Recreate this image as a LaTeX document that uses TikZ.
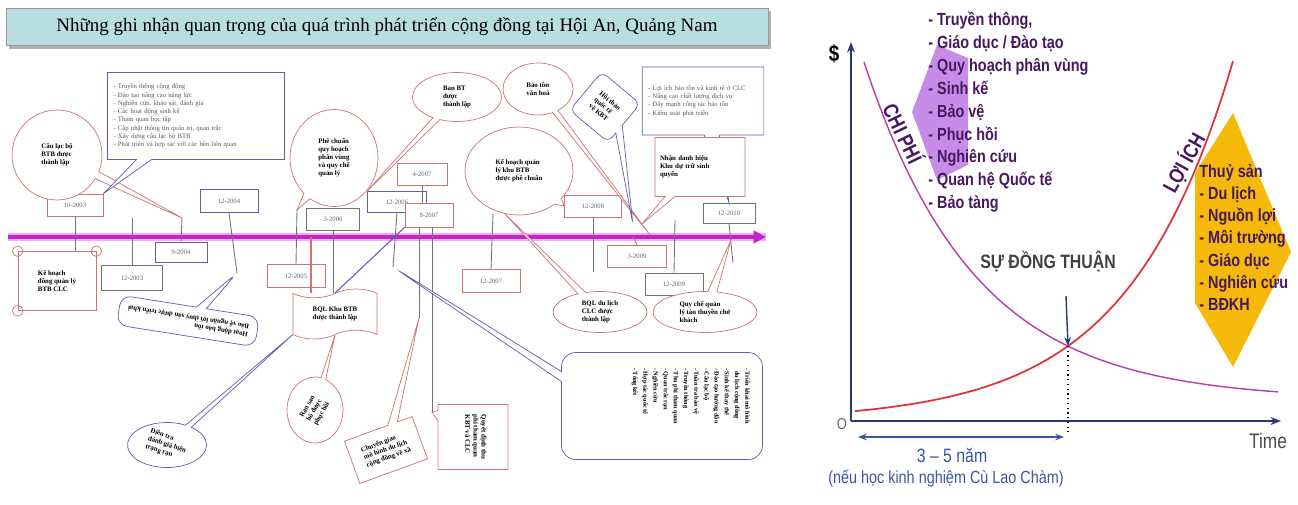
\documentclass[tikz,border=0pt]{standalone}
\usepackage{fontspec}
\setmainfont{Liberation Serif}
\newfontfamily\chartfont[FakeStretch=0.82]{Liberation Sans}
\usetikzlibrary{arrows.meta,shapes.callouts,shapes.symbols}

\definecolor{boxred}{RGB}{205,115,115}
\definecolor{boxblue}{RGB}{95,95,175}
\definecolor{boxgray}{RGB}{115,115,115}
\definecolor{timecol}{RGB}{195,35,200}
\definecolor{glowcol}{RGB}{242,170,242}
\definecolor{titlefill}{RGB}{185,222,226}
\definecolor{axiscol}{RGB}{40,55,120}
\definecolor{costcol}{RGB}{185,60,170}
\definecolor{benefitcol}{RGB}{225,50,60}
\definecolor{costfill}{RGB}{200,140,232}
\definecolor{benefitfill}{RGB}{245,185,10}
\definecolor{listcol}{RGB}{70,25,95}
\definecolor{spancol}{RGB}{60,85,160}

\begin{document}
\begin{tikzpicture}
  [x=0.02cm,y=-0.02cm,
   datebox/.style={draw,rectangle,fill=white,inner sep=1pt,minimum width=1.12cm,minimum height=0.44cm,
     font=\fontsize{3.8}{4.2}\selectfont,text=black!60},
   note/.style={font={\fontsize{3.9}{4.6}\selectfont\bfseries},align=left,inner sep=1pt},
   bubble/.style={ellipse callout,draw=boxred,fill=white,note,callout pointer arc=10},
   redcall/.style={rectangle callout,draw=boxred,fill=white,note,callout pointer width=0.2cm},
   bluecall/.style={rectangle callout,draw=boxblue,fill=white,note,callout pointer width=0.2cm},
   listbox/.style={rectangle callout,draw=boxblue,fill=white,align=left,text=black!65,
     font=\fontsize{3.8}{4.7}\selectfont,callout pointer width=0.3cm},
   tick/.style={draw=boxgray,line width=0.5pt},
   redtick/.style={draw=boxred,line width=0.6pt},
   bluetick/.style={draw=boxblue,line width=0.6pt},
   chart/.style={font={\chartfont\bfseries\fontsize{10}{13}\selectfont},text=listcol,align=left,inner sep=0pt}]
\useasboundingbox (0,0) rectangle (1298,504);

% title
\fill[black!30] (9,11) rectangle (771,49);
\node[draw=black!40,fill=titlefill,minimum width=15.24cm,minimum height=0.74cm,
  font=\fontsize{10.8}{12}\selectfont] (title) at (387,27)
  {Những ghi nhận quan trọng của quá trình phát triển cộng đồng tại Hội An, Quảng Nam};

% free ends
\coordinate (tl0) at (8,237);
\coordinate (tl1) at (766,237);
\coordinate (k2) at (132,218);
\coordinate (k3) at (182,218);
\coordinate (k4) at (237,273);
\coordinate (k5) at (297,210);
\coordinate (k6) at (311,237);
\coordinate (k7) at (393,267);
\coordinate (k8) at (419,318);
\coordinate (k9) at (432,412);
\coordinate (k10) at (493,213);
\coordinate (k11) at (593,272);
\coordinate (k12) at (650,235);
\coordinate (k13) at (633,225);
\coordinate (k14) at (642,224);
\coordinate (k15) at (505,214);
\coordinate (k16) at (731,240);
\coordinate (k17) at (675,220);
\coordinate (k18) at (733,263);
\coordinate (k19) at (633,237);

% timeline
\draw[glowcol,line width=5pt] (tl0) -- (tl1);
\draw[timecol,line width=2pt,-{Triangle[length=7pt,width=7pt]}] (tl0) -- (tl1);

% dates
\node[datebox,draw=boxred] (d1) at (75,205) {10-2003};
\node[datebox,draw=boxgray,minimum width=1.22cm,minimum height=0.5cm] (d2) at (132,278) {12-2003};
\node[datebox,draw=boxblue,minimum width=1.04cm,minimum height=0.4cm] (d3) at (181,252) {9-2004};
\node[datebox,draw=boxblue,minimum width=1.16cm,minimum height=0.46cm] (d4) at (229,201) {12-2004};
\node[datebox,draw=boxred,minimum width=1.16cm,minimum height=0.46cm] (d5) at (296,276) {12-2005};
\node[datebox,draw=boxgray,minimum width=1.06cm] (d6) at (333,219) {3-2006};
\node[datebox,draw=boxblue,minimum width=1.18cm,minimum height=0.42cm] (d7) at (397,202) {12-2006};
\node[datebox,draw=boxred,minimum width=1cm] (d8) at (422,174) {4-2007};
\node[datebox,draw=boxred,minimum width=0.96cm,minimum height=0.48cm] (d9) at (429,215) {8-2007};
\node[datebox,draw=boxred,minimum width=1.16cm,minimum height=0.46cm] (d10) at (491,281) {12-2007};
\node[datebox,draw=boxred,minimum width=1.14cm] (d11) at (593,206) {12-2008};
\node[datebox,draw=boxred,minimum width=1.18cm] (d12) at (637,256) {3-2009};
\node[datebox,draw=boxgray,minimum width=1.16cm] (d13) at (674,284) {12-2009};
\node[datebox,draw=boxgray,minimum width=1.04cm,minimum height=0.4cm] (d14) at (729,213) {12-2010};

% scroll and banner
\node[draw=boxred,fill=white,note,minimum width=1.56cm,minimum height=1.18cm,anchor=center] (s1) at (57,281)
  {Kế hoạch\\đồng quản lý\\BTB CLC};
\draw[boxred] (s1.north west) circle (3pt) (s1.north east) circle (3pt) (s1.south west) circle (3pt);
\node[tape,draw=boxred,fill=white,note,minimum width=1.68cm,minimum height=1cm] (b1) at (335,314)
  {BQL Khu BTB\\được thành lập};

% ticks
\draw[tick] (d1.south) -- (d1.south |- s1.north);
\draw[tick] (k2) -- (d2.north);
\draw[tick] (d3.north) -- (k3);
\draw[tick] (d4.south) -- (k4);
\draw[tick] (k5) -- (d5.north);
\draw[redtick] (k6) -- (k6 |- b1.north);
\draw[tick] (d6.south) -- (d6.south |- b1.north);
\draw[tick] (d7.south) -- (k7);
\draw[tick] (d8.south) -- (d8.south |- d9.north);
\draw[tick] (d9.south -| k8) -- (k8);
\draw[tick] (d9.south -| k9) -- (k9);
\draw[tick] (k10) -- (d10.north);
\draw[tick] (d11.south) -- (k11);
\draw[redtick] (k19) -- (d12.north);
\draw[tick] (k17) -- (d13.north);
\draw[tick] (d14.south) -- (k18);
\draw[bluetick] (b1.north) -- (d9.south west);

% notes
\node[bubble,minimum width=1.8cm,minimum height=1.8cm,callout absolute pointer={(k3)}] (c1) at (57,155)
  {Câu lạc bộ\\BTB được\\thành lập};
\node[listbox,minimum width=3.54cm,minimum height=1.74cm,text width=3.3cm,callout absolute pointer={(d1.north east)}] (c2) at (196,116)
  {- Truyền thông cộng đồng\\- Đào tạo nâng cao năng lực\\- Nghiên cứu, khảo sát, đánh giá\\- Các hoạt động sinh kế\\- Tham quan học tập\\- Cập nhật thông tin quản trị, quan trắc\\- Xây dựng câu lạc bộ BTB\\- Phát triển và hợp tác với các bên liên quan};
\node[bubble,minimum width=1.76cm,minimum height=1.94cm,callout absolute pointer={(k5)}] (c3) at (334,158)
  {Phê chuẩn\\quy hoạch\\phân vùng\\và quy chế\\quản lý};
\node[bubble,minimum width=1.78cm,minimum height=0.98cm,callout absolute pointer={(d7.north west)}] (c4) at (457,97)
  {Ban BT\\được\\thành lập};
\node[bubble,minimum width=1.4cm,minimum height=1.04cm,callout absolute pointer={(k12)}] (c5) at (538,89)
  {Bảo tồn\\văn hoá};
\node[bubble,minimum width=2.16cm,minimum height=1.76cm,callout absolute pointer={(d11.west)}] (c6) at (519,171)
  {Kế hoạch quản\\lý khu BTB\\được phê chuẩn};
\node[bluecall,rounded corners=4pt,minimum width=1cm,minimum height=1cm,rotate=-40,callout absolute pointer={(k13)}] (c7) at (605,107)
  {Hội thảo\\quốc tế\\về KBT};
\node[listbox,minimum width=2.4cm,minimum height=1.36cm,text width=2.2cm,callout absolute pointer={(d14.north)}] (c8) at (703,101)
  {- Lợi ích bảo tồn và kinh tế ở CLC\\- Nâng cao chất lượng dịch vụ\\- Đẩy mạnh công tác bảo tồn\\- Kiểm soát phát triển};
\node[redcall,minimum width=1.8cm,minimum height=1.18cm,text width=1.6cm,callout absolute pointer={(k14)}] (c9) at (700,167)
  {Nhận danh hiệu\\Khu dự trữ sinh\\quyển};
\node[bubble,minimum width=1.88cm,minimum height=0.82cm,callout absolute pointer={(k15)}] (c10) at (600,312)
  {BQL du lịch\\CLC được\\thành lập};
\node[bubble,minimum width=2.08cm,minimum height=0.82cm,callout absolute pointer={(k16)}] (c11) at (705,312)
  {Quy chế quản\\lý tàu thuyền chở\\khách};
\node[bluecall,rounded corners=8pt,minimum width=4.02cm,minimum height=2.14cm,callout absolute pointer={(k7)}] (c12) at (662,406) {};
\node[note,font={\fontsize{3.6}{5.8}\selectfont\bfseries},rotate=-90,anchor=north west] (c12t) at (752,366)
  {- Triển khai mô hình\\ \ \ du lịch cộng đồng\\- Sinh kế thay thế\\- Đào tạo hướng dẫn\\- Câu lạc bộ\\- Tuần tra bảo vệ\\- Truyền thông\\- Thu phí tham quan\\- Quan trắc rạn\\- Nghiên cứu\\- Hợp tác quốc tế\\- Tổng kết};
\node[redcall,minimum width=1.4cm,minimum height=1.3cm,callout absolute pointer={(k9)}] (c13) at (473,437) {};
\node[note,rotate=-90] (c13t) at (476,437) {Quyết định thu\\phí tham quan\\KBT và CLC};
\node[redcall,minimum width=1.44cm,minimum height=0.9cm,rotate=20,callout absolute pointer={(k8)}] (c14) at (386,450)
  {Chuyển giao\\mô hình du lịch\\cộng đồng về xã};
\node[bubble,draw=boxred,minimum width=1.12cm,minimum height=1.32cm,callout absolute pointer={(b1.south)}] (c15) at (315,410) {};
\node[note,rotate=60] (c15t) at (315,410) {Rạn san\\hô được\\phục hồi};
\node[bubble,draw=boxblue,minimum width=1.58cm,minimum height=0.9cm,callout absolute pointer={(b1.south west)}] (c16) at (167,445) {};
\node[note,rotate=-18] (c16t) at (167,445) {Điều tra\\đánh giá hiện\\trạng rạn};
\node[bluecall,rounded corners=6pt,minimum width=2.8cm,minimum height=0.6cm,rotate=171,callout absolute pointer={(k4)}] (c17) at (188,321)
  {Hoạt động bảo tồn\\Bảo vệ nguồn lợi thuỷ sản được triển khai};

% chart
\coordinate (org) at (851,421);
\coordinate (yend) at (851,42);
\coordinate (xend) at (1281,421);
\coordinate (cross) at (1068,346);
\coordinate (arr0) at (1066,296);
\coordinate (dot1) at (1068,432);
\coordinate (span0) at (858,437);
\coordinate (span1) at (1064,437);

\fill[costfill] (912,112) -- (937,45) -- (968,58) -- (968,165) -- (937,180) -- cycle;
\fill[benefitfill] (1233,113) -- (1291,252) -- (1233,367) -- (1195,303) -- (1195,173) -- cycle;

\draw[axiscol,line width=1pt,-{Stealth[length=6pt]}] (org) -- (yend);
\draw[axiscol,line width=1pt,-{Stealth[length=6pt]}] (org) -- (xend);
\draw[costcol,line width=0.8pt] plot[domain=864:1278,samples=90] (\x,{400-338*exp(-0.009*(\x-864))});
\draw[benefitcol,line width=1pt] plot[domain=855:1233,samples=90] (\x,{421-9.9*exp(0.0095*(\x-855))});

\node[chart,text=black,font={\chartfont\bfseries\fontsize{13}{13}\selectfont}] (dollar) at (834,54) {\$};
\node[chart,text=black!60,font={\chartfont\fontsize{9}{9}\selectfont}] (orig) at (842,424) {O};
\node[chart,text=black!70,font={\chartfont\fontsize{12}{12}\selectfont}] (time) at (1268,441) {Time};

\node[chart,anchor=north west] (costs) at (928,12)
  {- Truyền thông,\\- Giáo dục / Đào tạo\\- Quy hoạch phân vùng\\- Sinh kế\\- Bảo vệ\\- Phục hồi\\- Nghiên cứu\\- Quan hệ Quốc tế\\- Bảo tàng};
\node[chart,anchor=north west,font={\chartfont\bfseries\fontsize{10}{12.6}\selectfont}] (gains) at (1199,164)
  {Thuỷ sản\\- Du lịch\\- Nguồn lợi\\- Môi trường\\- Giáo dục\\- Nghiên cứu\\- BĐKH};
\node[chart,rotate=-64,font={\chartfont\bfseries\fontsize{12}{12}\selectfont}] (chiphi) at (904,133) {CHI PHÍ};
\node[chart,rotate=61,font={\chartfont\bfseries\fontsize{12}{12}\selectfont}] (loiich) at (1184,163) {LỢI ÍCH};

\node[chart,text=black!75,font={\chartfont\bfseries\fontsize{11}{11}\selectfont}] (dongthuan) at (1048,262) {SỰ ĐỒNG THUẬN};
\draw[axiscol,line width=0.8pt,-{Stealth[length=5pt]}] (arr0) -- (cross);
\draw[black,line width=0.7pt,dotted] (cross) -- (dot1);
\draw[spancol,line width=0.9pt,{Stealth[length=5pt]}-{Stealth[length=5pt]}] (span0) -- (span1);
\node[chart,text=spancol,font={\chartfont\fontsize{11}{11}\selectfont}] (years) at (952,455) {3 – 5 năm};
\node[chart,text=spancol,font={\chartfont\fontsize{10}{10}\selectfont}] (note) at (946,479) {(nếu học kinh nghiệm Cù Lao Chàm)};
\end{tikzpicture}
\end{document}
